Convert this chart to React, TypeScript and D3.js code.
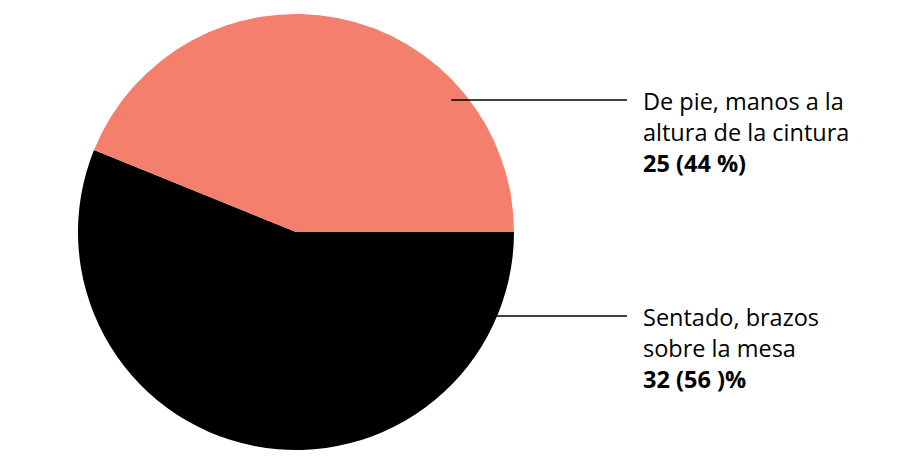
import React from "react";
import { arc, pie, PieArcDatum } from "d3";

// slice data, in drawing order (clockwise from 3 o'clock)
const categories = ["Sentado, brazos sobre la mesa", "De pie, manos a la altura de la cintura"];
const counts = [32, 25];
const colors = ["#000000", "#F47F6C"];
const labelLines = [
  ["Sentado, brazos", "sobre la mesa"],
  ["De pie, manos a la", "altura de la cintura"],
];
const valueLabels = ["32 (56 )%", "25 (44 %)"];

interface Slice {
  name: string;
  value: number;
  color: string;
}

const data: Slice[] = categories.map((name, i) => ({
  name,
  value: counts[i],
  color: colors[i],
}));

const width = 901;
const height = 467;
const cx = 296;
const cy = 232;
const radius = 218;

// leader lines: y offset from centre, where the label block sits
const leaderY = [84, -132];
const leaderEnd = 627;
const textX = 643;
const lineHeight = 31;

export default function App() {
  const slices = pie<Slice>()
    .sort(null)
    .value((d) => d.value)
    .startAngle(Math.PI / 2)
    .endAngle(Math.PI / 2 + 2 * Math.PI)(data);

  const arcGen = arc<PieArcDatum<Slice>>().innerRadius(0).outerRadius(radius);

  return (
    <svg
      width={width}
      height={height}
      style={{ position: "absolute", left: 0, top: 0 }}
      fontFamily="'Open Sans', sans-serif"
    >
      <g transform={`translate(${cx}, ${cy})`}>
        {slices.map((s) => (
          <path key={s.data.name} d={arcGen(s) ?? ""} fill={s.data.color} />
        ))}
        {slices.map((s, i) => {
          const ly = leaderY[i];
          const r0 = radius * 0.935;
          const x0 = Math.sqrt(r0 * r0 - ly * ly);
          return (
            <g key={`label-${s.data.name}`}>
              <line
                x1={x0}
                x2={leaderEnd - cx}
                y1={ly}
                y2={ly}
                stroke="#000"
                strokeWidth={1.5}
              />
              <text x={textX - cx} y={ly + 10} fontSize={23.5} fill="#000">
                {labelLines[i].map((t, j) => (
                  <tspan key={t} x={textX - cx} dy={j === 0 ? 0 : lineHeight}>
                    {t}
                  </tspan>
                ))}
                <tspan x={textX - cx} dy={lineHeight} fontWeight="bold">
                  {valueLabels[i]}
                </tspan>
              </text>
            </g>
          );
        })}
      </g>
    </svg>
  );
}
